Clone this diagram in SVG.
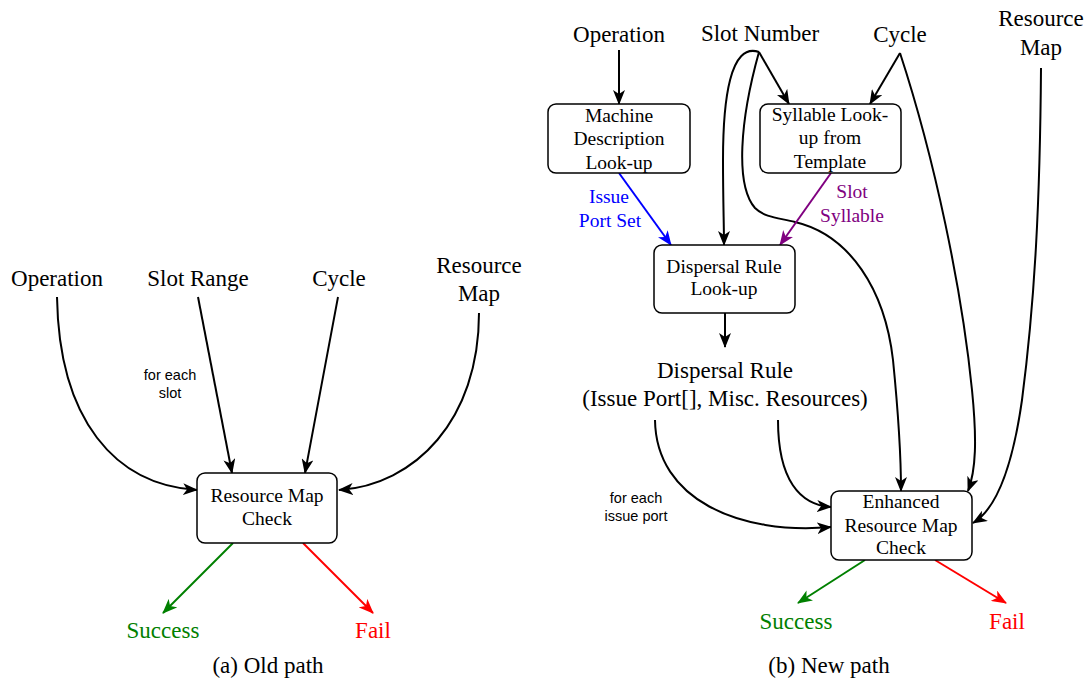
<svg xmlns="http://www.w3.org/2000/svg" width="1090" height="682" viewBox="0 0 1090 682">
  <style>
    .t { font-family: "Liberation Serif", "Times New Roman", serif; font-size: 23px; fill: #000; text-anchor: middle; }
    .bt { font-family: "Liberation Serif", "Times New Roman", serif; font-size: 19.5px; fill: #000; text-anchor: middle; }
    .s { font-family: "Liberation Sans", Arial, sans-serif; font-size: 14.5px; fill: #000; text-anchor: middle; }
    .box { fill: #fff; stroke: #000; stroke-width: 1.5; }
    .e { fill: none; stroke: #000; stroke-width: 2; marker-end: url(#ah); }
    .g { fill: none; stroke: #008000; stroke-width: 2; marker-end: url(#ahg); }
    .r { fill: none; stroke: #ff0000; stroke-width: 2; marker-end: url(#ahr); }
    .b { fill: none; stroke: #0000ff; stroke-width: 2; marker-end: url(#ahb); }
    .p { fill: none; stroke: #800080; stroke-width: 2; marker-end: url(#ahp); }
  </style>
  <defs>
    <marker id="ah" viewBox="0 0 15 12" refX="14" refY="6" markerWidth="15" markerHeight="12" markerUnits="userSpaceOnUse" orient="auto">
      <path d="M0,0 L15,6 L0,12 L4,6 z" fill="#000"/>
    </marker>
    <marker id="ahg" viewBox="0 0 15 12" refX="14" refY="6" markerWidth="15" markerHeight="12" markerUnits="userSpaceOnUse" orient="auto">
      <path d="M0,0 L15,6 L0,12 L4,6 z" fill="#008000"/>
    </marker>
    <marker id="ahr" viewBox="0 0 15 12" refX="14" refY="6" markerWidth="15" markerHeight="12" markerUnits="userSpaceOnUse" orient="auto">
      <path d="M0,0 L15,6 L0,12 L4,6 z" fill="#ff0000"/>
    </marker>
    <marker id="ahb" viewBox="0 0 15 12" refX="14" refY="6" markerWidth="15" markerHeight="12" markerUnits="userSpaceOnUse" orient="auto">
      <path d="M0,0 L15,6 L0,12 L4,6 z" fill="#0000ff"/>
    </marker>
    <marker id="ahp" viewBox="0 0 15 12" refX="14" refY="6" markerWidth="15" markerHeight="12" markerUnits="userSpaceOnUse" orient="auto">
      <path d="M0,0 L15,6 L0,12 L4,6 z" fill="#800080"/>
    </marker>
  </defs>
  <rect width="1090" height="682" fill="#fff"/>

  <!-- connectors -->
  <g id="connectors">
    <!-- (a) old path -->
    <path class="e" d="M57,297 C59,420 115,485 197,490"/>
    <path class="e" d="M198,297 L232,473"/>
    <path class="e" d="M338,297 L305,473"/>
    <path class="e" d="M479,313 C479,420 415,485 339,490"/>
    <path class="g" d="M233,543 L163,613"/>
    <path class="r" d="M303,543 L373,613"/>
    <!-- (b) new path -->
    <path class="e" d="M619,50 L619,104"/>
    <path class="e" d="M759,52 L789,104"/>
    <path class="e" d="M900,53 L870,104"/>
    <path class="e" d="M759,52 C730,42 723,100 723,160 C723,200 724,225 724,245"/>
    <path class="e" d="M759,52 C740,120 735,185 755,208 C765,218 780,218 795,222 C850,235 885,290 893,360 C898,410 901,450 901,491"/>
    <path class="e" d="M900,53 C935,160 962,290 972,390 C977,440 976,470 968,491"/>
    <path class="e" d="M1041,68 C1040,200 1035,300 1022,400 C1012,470 995,510 973,523"/>
    <path class="b" d="M619,173 L671,245"/>
    <path class="p" d="M831,173 L780,245"/>
    <path class="e" d="M725,313 L725,347"/>
    <path class="e" d="M655,420 C656,500 740,535 831,527"/>
    <path class="e" d="M778,420 C778,480 800,505 831,507"/>
    <path class="g" d="M865,560 L798,603"/>
    <path class="r" d="M935,560 L1006,603"/>
  </g>

  <!-- (a) old path -->
  <g id="a-operation"><text class="t" x="57" y="286">Operation</text></g>
  <g id="a-slot-range"><text class="t" x="198" y="286">Slot Range</text></g>
  <g id="a-cycle"><text class="t" x="339" y="286">Cycle</text></g>
  <g id="a-resource-map"><text class="t" x="479" y="273">Resource</text><text class="t" x="479" y="301">Map</text></g>
  <g id="a-for-each-slot"><text class="s" x="170" y="380">for each</text><text class="s" x="170" y="398">slot</text></g>
  <g id="a-check">
    <rect class="box" x="197" y="473" width="140" height="70" rx="8"/>
    <text class="bt" x="267" y="502">Resource Map</text>
    <text class="bt" x="267" y="525">Check</text>
  </g>
  <g id="a-success"><text class="t" x="163" y="638" style="fill:#008000">Success</text></g>
  <g id="a-fail"><text class="t" x="373" y="638" style="fill:#ff0000">Fail</text></g>
  <g id="a-caption"><text class="t" x="268" y="673">(a) Old path</text></g>

  <!-- (b) new path -->
  <g id="b-operation"><text class="t" x="619" y="42">Operation</text></g>
  <g id="b-slot-number"><text class="t" x="760" y="41">Slot Number</text></g>
  <g id="b-cycle"><text class="t" x="900" y="42">Cycle</text></g>
  <g id="b-resource-map"><text class="t" x="1041" y="26">Resource</text><text class="t" x="1041" y="55">Map</text></g>

  <g id="b-machine-desc">
    <rect class="box" x="548" y="104" width="142" height="69" rx="8"/>
    <text class="bt" x="619" y="122">Machine</text>
    <text class="bt" x="619" y="145">Description</text>
    <text class="bt" x="619" y="169">Look-up</text>
  </g>
  <g id="b-syllable">
    <rect class="box" x="760" y="104" width="141" height="69" rx="8"/>
    <text class="bt" x="830" y="121">Syllable Look-</text>
    <text class="bt" x="830" y="144">up from</text>
    <text class="bt" x="830" y="168">Template</text>
  </g>
  <g id="b-issue-port-set"><text class="bt" x="609" y="203" style="fill:#0000ff">Issue</text><text class="bt" x="610" y="227" style="fill:#0000ff">Port Set</text></g>
  <g id="b-slot-syllable"><text class="bt" x="852" y="198" style="fill:#800080">Slot</text><text class="bt" x="852" y="222" style="fill:#800080">Syllable</text></g>
  <g id="b-dispersal-lookup">
    <rect class="box" x="654" y="245" width="141" height="68" rx="8"/>
    <text class="bt" x="724" y="273">Dispersal Rule</text>
    <text class="bt" x="724" y="295">Look-up</text>
  </g>
  <g id="b-dispersal-rule">
    <text class="t" x="725" y="378">Dispersal Rule</text>
    <text class="t" x="725" y="406">(Issue Port[], Misc. Resources)</text>
  </g>
  <g id="b-for-each-port"><text class="s" x="636" y="503">for each</text><text class="s" x="636" y="521">issue port</text></g>
  <g id="b-check">
    <rect class="box" x="831" y="491" width="141" height="69" rx="8"/>
    <text class="bt" x="901" y="508">Enhanced</text>
    <text class="bt" x="901" y="532">Resource Map</text>
    <text class="bt" x="901" y="554">Check</text>
  </g>
  <g id="b-success"><text class="t" x="796" y="629" style="fill:#008000">Success</text></g>
  <g id="b-fail"><text class="t" x="1007" y="629" style="fill:#ff0000">Fail</text></g>
  <g id="b-caption"><text class="t" x="829" y="673">(b) New path</text></g>
</svg>
